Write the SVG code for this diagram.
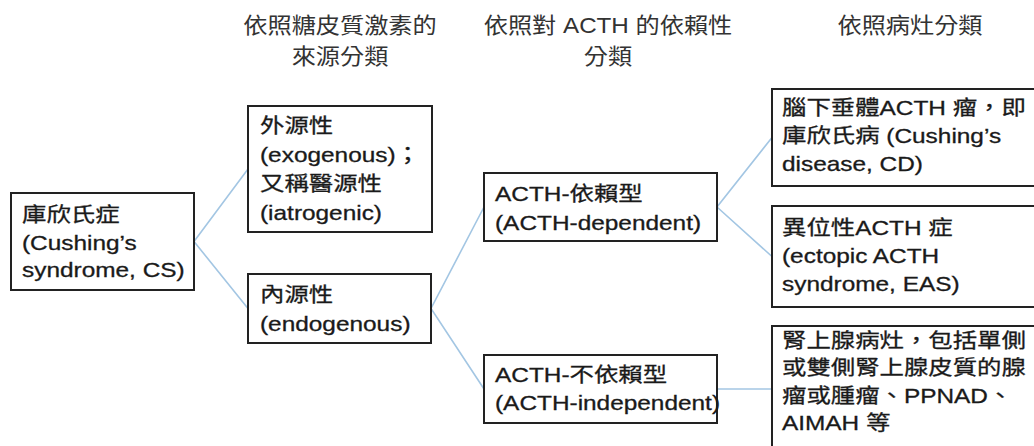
<svg xmlns="http://www.w3.org/2000/svg" width="1034" height="446" viewBox="0 0 1034 446" xml:lang="zh-Hant-TW" lang="zh-Hant-TW">
<style>
.box{fill:#fff;stroke:#222;stroke-width:2}
.t{font-family:"Liberation Sans","Noto Sans CJK TC",sans-serif;font-size:20px;fill:#1a1a1a;stroke:#1a1a1a;stroke-width:0.3}
.h{font-family:"Liberation Sans","Noto Sans CJK TC",sans-serif;font-size:22px;fill:#333;text-anchor:middle}
.c{fill:none;stroke:#a3c6e3;stroke-width:1.6}
</style>
<rect width="1034" height="446" fill="#fff"/>
<g id="headers">
<text class="h" transform="matrix(1.1,0,0,1,340,0)"><tspan x="0" y="33">依照糖皮質激素的</tspan><tspan x="0" y="64">來源分類</tspan></text>
<text class="h" transform="matrix(1.1,0,0,1,608,0)"><tspan x="0" y="33">依照對 ACTH 的依賴性</tspan><tspan x="0" y="64">分類</tspan></text>
<text class="h" transform="matrix(1.1,0,0,1,910,0)"><tspan x="0" y="33">依照病灶分類</tspan></text>
</g>
<g id="connectors">
<polyline class="c" points="248,169 194,241.5 248,308.5"/>
<polyline class="c" points="484,207 431,308.5 484,389"/>
<polyline class="c" points="772,137.5 717,207 772,256.5"/>
<line class="c" x1="717" y1="389" x2="772" y2="389"/>
</g>
<g id="cs">
<rect class="box" x="11" y="193" width="183" height="97"/>
<text class="t" transform="matrix(1.22,0,0,1,22,0)"><tspan x="0" y="222">庫欣氏症</tspan><tspan x="0" y="250">(Cushing’s</tspan><tspan x="0" y="277">syndrome, CS)</tspan></text>
</g>
<g id="exogenous">
<rect class="box" x="248" y="106" width="184" height="126"/>
<text class="t" transform="matrix(1.22,0,0,1,260,0)"><tspan x="0" y="133">外源性</tspan><tspan x="0" y="162">(exogenous)；</tspan><tspan x="0" y="191">又稱醫源性</tspan><tspan x="0" y="220">(iatrogenic)</tspan></text>
</g>
<g id="endogenous">
<rect class="box" x="248" y="274" width="183" height="69"/>
<text class="t" transform="matrix(1.22,0,0,1,260,0)"><tspan x="0" y="302">內源性</tspan><tspan x="0" y="331">(endogenous)</tspan></text>
</g>
<g id="dependent">
<rect class="box" x="484" y="173" width="233" height="68"/>
<text class="t" transform="matrix(1.22,0,0,1,495,0)"><tspan x="0" y="201">ACTH-依賴型</tspan><tspan x="0" y="230">(ACTH-dependent)</tspan></text>
</g>
<g id="independent">
<rect class="box" x="484" y="355" width="233" height="68"/>
<text class="t" transform="matrix(1.22,0,0,1,495,0)"><tspan x="0" y="382">ACTH-不依賴型</tspan><tspan x="0" y="410">(ACTH-independent)</tspan></text>
</g>
<g id="cushing-disease">
<rect class="box" x="772" y="89" width="290" height="97"/>
<text class="t" transform="matrix(1.22,0,0,1,782,0)"><tspan x="0" y="115">腦下垂體ACTH 瘤，即</tspan><tspan x="0" y="143">庫欣氏病 (Cushing’s</tspan><tspan x="0" y="171">disease, CD)</tspan></text>
</g>
<g id="eas">
<rect class="box" x="772" y="206" width="290" height="101"/>
<text class="t" transform="matrix(1.22,0,0,1,782,0)"><tspan x="0" y="235">異位性ACTH 症</tspan><tspan x="0" y="263">(ectopic ACTH</tspan><tspan x="0" y="291">syndrome, EAS)</tspan></text>
</g>
<g id="adrenal">
<rect class="box" x="772" y="326" width="290" height="140"/>
<text class="t" transform="matrix(1.22,0,0,1,782,0)"><tspan x="0" y="348">腎上腺病灶，包括單側</tspan><tspan x="0" y="375">或雙側腎上腺皮質的腺</tspan><tspan x="0" y="403">瘤或腫瘤、PPNAD、</tspan><tspan x="0" y="430">AIMAH 等</tspan></text>
</g>
</svg>
